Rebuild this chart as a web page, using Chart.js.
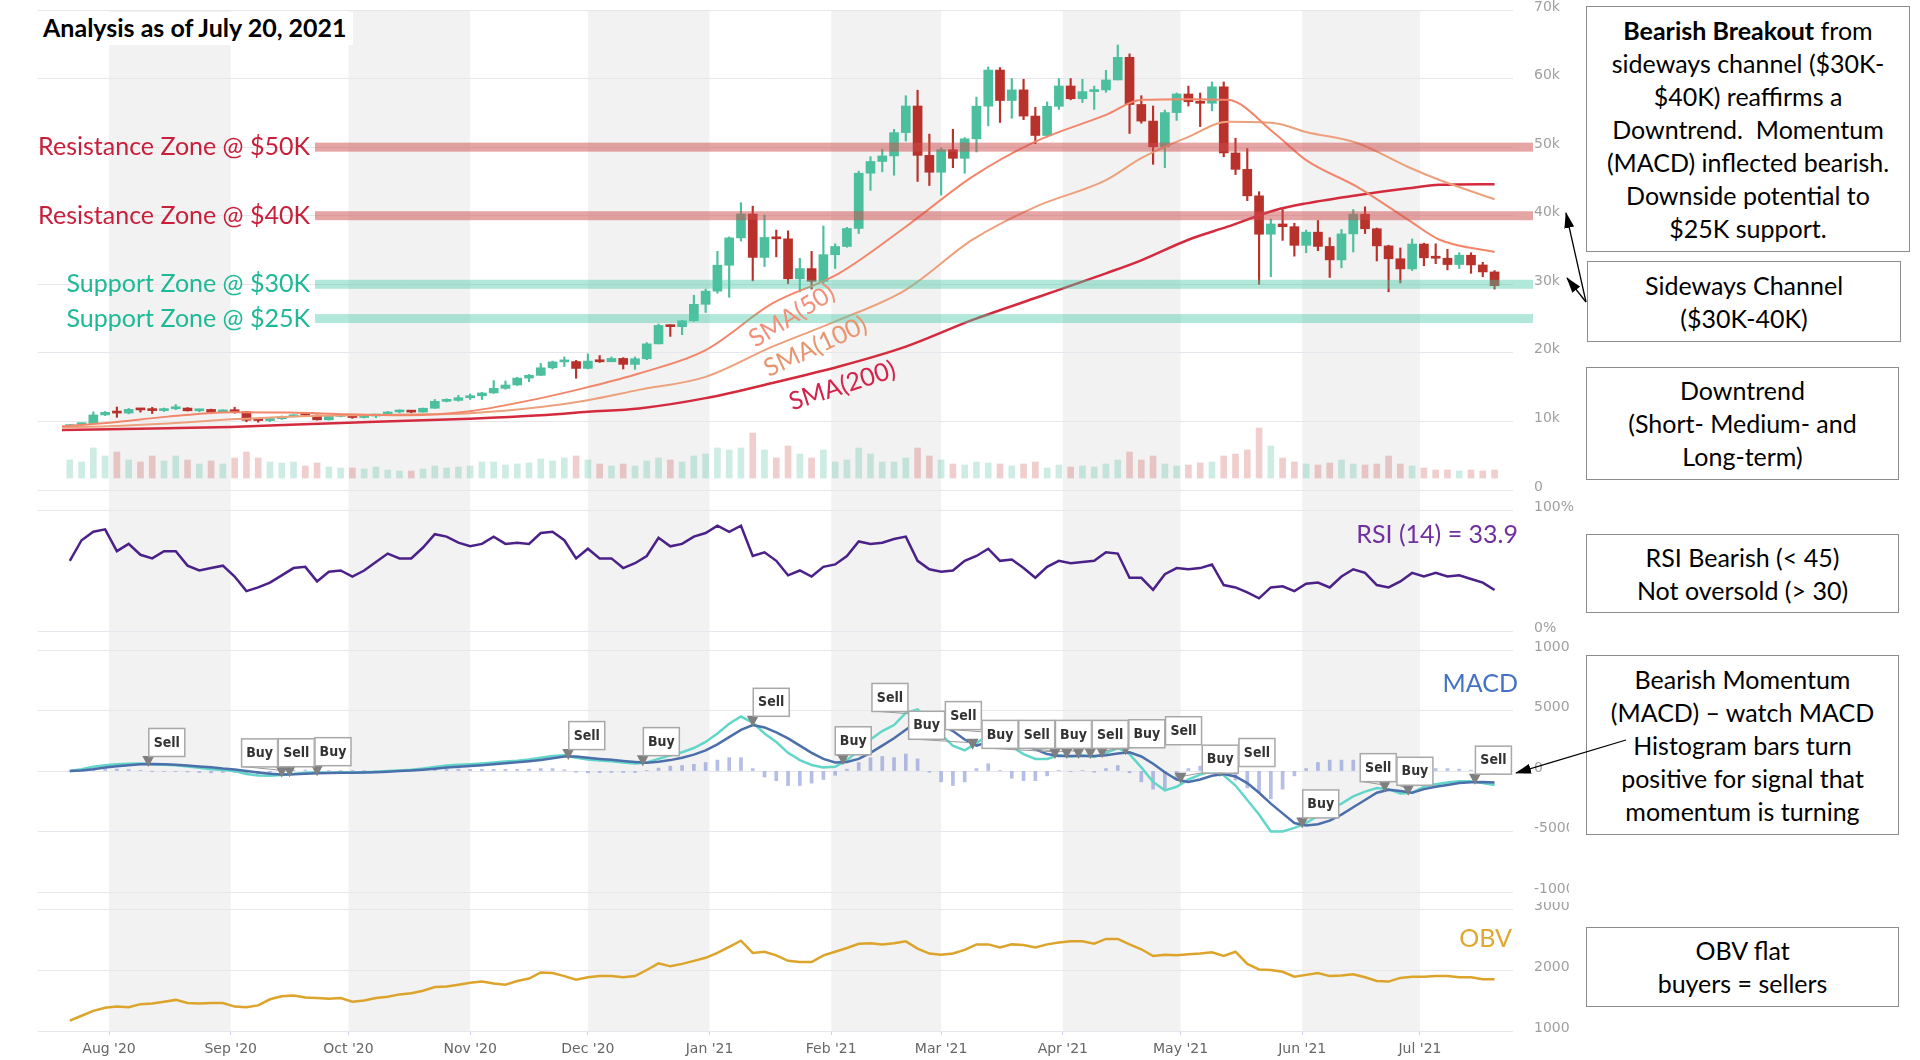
<!DOCTYPE html>
<html>
<head>
<meta charset="utf-8">
<title>BTC analysis</title>
<script src="https://cdn.jsdelivr.net/npm/chart.js@4.4.0/dist/chart.umd.min.js"></script>
<style>
  html, body { margin: 0; padding: 0; background: #fff; }
  body { width: 1920px; height: 1060px; position: relative; overflow: hidden; font-family: Lato, "Open Sans", sans-serif; }
  canvas.pane { position: absolute; left: 0; z-index: 1; }
  #title { position: absolute; left: 39px; top: 12px; padding: 0 6px 3px 4px; background: #fff; z-index: 2;
           font: bold 25px Lato, sans-serif; color: #000; }
  .note { position: absolute; box-sizing: border-box; border: 1.5px solid #8c8c8c; background: #fff; z-index: 2;
          display: flex; align-items: center; justify-content: center; text-align: center;
          font-size: 25px; line-height: 33px; color: #000; }
  svg { position: absolute; left: 0; top: 0; pointer-events: none; z-index: 3; }
</style>
</head>
<body>
<canvas id="priceChart" class="pane" width="1574" height="500" style="top:0px"></canvas>
<canvas id="rsiChart" class="pane" width="1574" height="140" style="top:500px"></canvas>
<canvas id="macdChart" class="pane" width="1569" height="262" style="top:640px"></canvas>
<canvas id="obvChart" class="pane" width="1574" height="158" style="top:902px"></canvas>

<div id="title">Analysis as of July 20, 2021</div>

<div class="note" style="left:1586px;top:6px;width:324px;height:246px;"><div><b>Bearish Breakout</b> from<br>sideways channel ($30K-<br>$40K) reaffirms a<br>Downtrend.&nbsp; Momentum<br>(MACD) inflected bearish.<br>Downside potential to<br>$25K support.</div></div>
<div class="note" style="left:1587px;top:261px;width:314px;height:81px;"><div>Sideways Channel<br>($30K-40K)</div></div>
<div class="note" style="left:1586px;top:367px;width:313px;height:113px;"><div>Downtrend<br>(Short- Medium- and<br>Long-term)</div></div>
<div class="note" style="left:1586px;top:534px;width:313px;height:79px;"><div>RSI Bearish (&lt; 45)<br>Not oversold (&gt; 30)</div></div>
<div class="note" style="left:1586px;top:655px;width:313px;height:180px;"><div>Bearish Momentum<br>(MACD) – watch MACD<br>Histogram bars turn<br>positive for signal that<br>momentum is turning</div></div>
<div class="note" style="left:1586px;top:927px;width:313px;height:80px;"><div>OBV flat<br>buyers = sellers</div></div>

<svg width="1920" height="1060">
  <defs>
    <marker id="ah" markerWidth="16" markerHeight="10" refX="15" refY="5" orient="auto" markerUnits="userSpaceOnUse">
      <path d="M0,0 L16,5 L0,10 z" fill="#000"/>
    </marker>
  </defs>
  <line x1="1586" y1="302" x2="1566" y2="213" stroke="#000" stroke-width="1.3" marker-end="url(#ah)"/>
  <line x1="1586" y1="302" x2="1567" y2="278" stroke="#000" stroke-width="1.3" marker-end="url(#ah)"/>
  <line x1="1626" y1="740" x2="1516" y2="773" stroke="#000" stroke-width="1.3" marker-end="url(#ah)"/>
</svg>

<script>
// days are counted from 1 Aug 2020; one candle every 3 days from 22 Jul 2020 to 20 Jul 2021
const startDay = -10;
const stepDays = 3;

const monthDays = [0, 31, 61, 92, 122, 153, 184, 212, 243, 273, 304, 334];
const monthLabels = ["Aug '20", "Sep '20", "Oct '20", "Nov '20", "Dec '20", "Jan '21",
  "Feb '21", "Mar '21", "Apr '21", "May '21", "Jun '21", "Jul '21"];

// price, thousands of USD
const firstOpen = 9.16;
const closes = [
  9.53, 9.70, 10.95, 11.33, 11.22, 11.76, 11.68, 11.58, 11.85, 11.95,
  11.55, 11.75, 11.33, 11.68, 11.42, 10.17, 10.13, 10.40, 10.68, 10.97,
  10.92, 10.23, 10.73, 10.84, 10.57, 10.79, 10.92, 11.38, 11.43, 11.36,
  11.92, 12.93, 13.07, 13.46, 13.74, 14.15, 14.82, 15.31, 16.32, 16.72,
  17.82, 18.68, 18.73, 17.73, 18.80, 18.70, 19.19, 18.32, 19.14, 21.31,
  24.00, 23.82, 24.68, 27.08, 29.00, 32.78, 36.77, 40.25, 33.92, 36.83,
  36.63, 30.80, 32.29, 30.43, 34.32, 35.51, 38.14, 46.20, 47.91, 48.72,
  52.12, 56.00, 48.80, 46.34, 49.63, 48.37, 51.21, 55.97, 61.24, 56.80,
  58.35, 54.53, 51.70, 55.95, 58.92, 57.06, 58.10, 58.35, 59.80, 63.10,
  56.22, 53.80, 50.05, 55.04, 57.75, 56.62, 56.40, 58.80, 49.15, 46.76,
  42.90, 37.30, 38.80, 38.40, 35.68, 37.60, 35.52, 33.56, 37.35, 40.22,
  38.10, 35.60, 33.72, 32.24, 35.87, 33.86, 33.80, 32.88, 34.24, 32.82,
  31.80, 29.80
];
const highs = [
  9.55, 9.73, 11.40, 11.45, 12.10, 11.90, 11.90, 12.07, 11.95, 12.47,
  12.02, 11.80, 11.80, 11.70, 12.07, 11.45, 10.40, 10.45, 10.80, 11.00,
  11.05, 10.95, 10.78, 10.85, 10.95, 10.80, 10.95, 11.45, 11.70, 11.60,
  11.95, 13.20, 13.30, 13.80, 14.00, 14.25, 15.95, 15.90, 16.45, 16.85,
  18.45, 18.80, 19.40, 18.90, 19.85, 19.60, 19.40, 19.30, 19.40, 21.50,
  24.20, 24.10, 24.75, 28.40, 29.30, 34.80, 36.90, 41.90, 41.40, 40.10,
  37.90, 37.80, 33.80, 34.80, 38.50, 35.90, 38.30, 46.50, 48.60, 49.70,
  52.60, 57.50, 58.30, 51.90, 49.90, 52.60, 51.40, 57.30, 61.70, 61.60,
  60.00, 59.90, 55.80, 56.60, 60.00, 60.00, 59.90, 58.90, 61.20, 64.90,
  63.60, 57.50, 56.00, 55.40, 57.90, 58.90, 57.90, 59.50, 59.50, 51.30,
  49.80, 43.50, 39.50, 40.90, 38.90, 37.90, 39.30, 36.80, 38.00, 40.90,
  41.30, 38.20, 35.70, 35.30, 36.60, 36.00, 35.90, 35.10, 34.60, 34.60,
  33.20, 32.00
];
const lows = [
  9.10, 9.48, 9.65, 10.85, 10.60, 11.10, 11.35, 11.15, 11.45, 11.70,
  11.52, 11.40, 11.12, 11.28, 11.20, 9.95, 9.88, 10.00, 10.28, 10.65,
  10.80, 10.20, 10.20, 10.65, 10.45, 10.50, 10.55, 10.90, 11.25, 11.25,
  11.35, 11.90, 12.85, 12.95, 13.20, 13.20, 14.10, 14.70, 15.25, 15.80,
  16.70, 17.65, 18.00, 16.30, 17.65, 18.60, 18.70, 17.65, 17.60, 19.00,
  21.30, 22.40, 22.65, 24.60, 25.90, 28.70, 28.10, 36.30, 30.50, 32.60,
  34.00, 30.10, 28.90, 29.30, 30.00, 32.30, 35.40, 37.40, 43.70, 46.40,
  45.90, 50.90, 45.00, 44.40, 43.00, 47.00, 46.20, 49.30, 53.10, 53.60,
  54.20, 54.00, 50.50, 51.50, 55.50, 56.90, 56.50, 55.50, 58.00, 59.80,
  52.00, 53.50, 47.50, 47.00, 53.90, 56.00, 53.00, 55.30, 48.60, 46.00,
  42.20, 30.00, 31.10, 36.40, 34.10, 34.60, 34.90, 31.00, 32.40, 34.70,
  37.40, 33.40, 28.90, 30.20, 32.00, 32.70, 33.00, 32.10, 32.30, 31.60,
  31.10, 29.30
];
// volume, relative units
const volumes = [
  18, 16, 30, 22, 26, 18, 16, 22, 17, 22,
  18, 14, 17, 14, 20, 26, 20, 16, 15, 16,
  12, 15, 11, 10, 10, 9, 11, 8, 7, 7,
  9, 12, 10, 11, 12, 16, 16, 13, 14, 15,
  19, 17, 20, 22, 18, 14, 12, 14, 12, 17,
  20, 18, 16, 22, 24, 30, 28, 30, 45, 28,
  20, 32, 24, 20, 28, 16, 18, 30, 24, 16,
  16, 20, 30, 22, 18, 14, 13, 16, 15, 14,
  12, 14, 16, 10, 13, 11, 12, 11, 14, 18,
  26, 18, 22, 14, 12, 13, 15, 16, 22, 24,
  28, 50, 32, 20, 16, 14, 13, 15, 18, 14,
  13, 14, 22, 14, 12, 10, 8, 8, 7, 8,
  7, 8
];

// moving averages, thousands of USD
const smaDays = [-12, 0, 15, 31, 46, 61, 76, 92, 110, 122, 135, 152, 169, 186, 203, 220, 236, 254, 263, 275, 285, 297, 305, 318, 331, 339, 353];
const sma50 = [9.3, 9.8, 10.7, 11.35, 11.3, 11.05, 10.9, 11.5, 13.4, 15.0, 17.0, 20.4, 27.2, 31.6, 38.4, 45.7, 50.8, 54.7, 56.9, 57.0, 56.9, 52.0, 48.1, 44.2, 39.4, 36.5, 34.7];
const sma100 = [9.15, 9.3, 9.7, 10.3, 10.7, 10.9, 11.0, 11.2, 12.1, 13.1, 14.6, 16.5, 20.9, 24.8, 29.2, 36.5, 41.3, 45.2, 48.4, 51.5, 53.7, 53.5, 52.2, 50.6, 47.1, 45.2, 42.4];
const sma200 = [8.75, 8.85, 9.0, 9.2, 9.5, 9.8, 10.1, 10.4, 10.9, 11.4, 11.9, 13.4, 15.6, 18.0, 20.9, 24.8, 28.0, 31.6, 33.5, 36.5, 38.4, 40.8, 41.8, 43.0, 44.0, 44.5, 44.6];

const zoneValues = [50, 40, 30, 25];
const zoneLabels = ['Resistance Zone @ $50K', 'Resistance Zone @ $40K', 'Support Zone @ $30K', 'Support Zone @ $25K'];

const rsi = [
  58, 75, 82, 84, 66, 72, 63, 60, 66, 66,
  54, 50, 52, 54, 45, 33, 36, 40, 46, 52,
  53, 41, 49, 50, 45, 50, 57, 64, 60, 60,
  69, 80, 78, 73, 70, 72, 78, 72, 73, 72,
  81, 82, 75, 60, 68, 60, 60, 52, 56, 62,
  77, 70, 72, 78, 81, 87, 82, 87, 62, 65,
  58, 46, 50, 45, 53, 55, 62, 74, 72, 73,
  76, 78, 58, 51, 49, 50, 58, 62, 68, 58,
  59, 52, 44, 53, 58, 56, 57, 58, 65, 64,
  44, 44, 34, 47, 52, 51, 52, 55, 38, 36,
  32, 27, 36, 37, 33, 39, 40, 36, 45, 51,
  48, 38, 36, 41, 48, 45, 48, 45, 46, 43,
  40, 33.9
];

const macdLine = [
  0, 150, 350, 480, 560, 600, 620, 560, 520, 470,
  380, 260, 150, 80, 0, -250, -380, -400, -330, -250,
  -150, -120, -140, -130, -130, -100, -60, 0, 50, 100,
  200, 330, 450, 520, 560, 620, 700, 780, 850, 950,
  1100, 1250, 1300, 1100, 950, 870, 800, 700, 620, 700,
  1000, 1300, 1550, 1900, 2400, 3100, 3900, 4500, 4000, 3100,
  2400, 1500, 900, 500, 300, 350, 900, 1700, 2600, 3300,
  3800, 4800, 5100, 4200, 3000, 2100, 1700, 2300, 3000, 2800,
  2000, 1400, 1000, 1000, 1300, 1200, 1300, 1150, 1500, 1900,
  1400, 300, -900, -1600, -1300, -700, -300, 0, -350, -1200,
  -2400, -3600, -5000, -5000, -4700, -4300, -3700, -3200, -2700, -2100,
  -1700, -1400, -1500, -1850, -1800, -1300, -1100, -950, -850, -850,
  -1000, -1150
];
const signalLine = [
  0, 50, 150, 280, 400, 480, 560, 580, 560, 520,
  460, 380, 300, 200, 130, 0, -120, -220, -280, -270,
  -230, -180, -160, -150, -140, -130, -100, -60, 0, 40,
  100, 180, 280, 360, 420, 480, 560, 640, 720, 800,
  900, 1050, 1200, 1200, 1100, 1000, 920, 820, 740, 680,
  760, 900, 1100, 1350, 1700, 2200, 2800, 3400, 3800, 3600,
  3200, 2700, 2100, 1500, 1000, 700, 750, 1000, 1500, 2100,
  2700, 3400, 4100, 4300, 3900, 3300, 2600, 2100, 2400, 2750,
  2600, 2200, 1800, 1400, 1250, 1250, 1250, 1250, 1300, 1450,
  1550, 1200, 600, -100, -700, -900, -700, -400, -250, -450,
  -1000, -1800, -2700, -3500, -4300, -4500, -4400, -4100, -3600, -3000,
  -2400, -1800, -1550, -1650, -1800, -1500, -1300, -1150, -1000, -920,
  -900, -950
];
const histogram = [
  0, 100, 200, 200, 160, 120, 60, -20, -40, -50,
  -80, -120, -150, -120, -130, -250, -260, -180, -50, 20,
  80, 60, 20, 20, 10, 30, 40, 60, 50, 60,
  100, 150, 170, 160, 140, 140, 140, 140, 130, 150,
  200, 200, 100, -100, -150, -130, -120, -120, -120, 20,
  240, 400, 450, 550, 700, 900, 1100, 1100, 200, -500,
  -800, -1200, -1200, -1000, -700, -350, 150, 700, 1100, 1200,
  1100, 1400, 1000, -100, -900, -1200, -900, 200, 600, 50,
  -600, -800, -800, -400, 50, -50, 50, -100, 200, 450,
  -150, -900, -1500, -1500, -600, 200, 400, 400, -100, -750,
  -1400, -1800, -2300, -1500, -400, 200, 700, 900, 900, 900,
  700, 400, 50, -200, 0, 200, 200, 200, 150, 70,
  -100, -200
];

// MACD crossover signals
const signalDays = [10, 44, 46, 53, 117, 136, 164, 187, 208, 220, 227, 241, 244, 247, 250, 253, 259, 273, 283, 304, 325, 331, 348];
const signalTypes = ['Sell', 'Buy', 'Sell', 'Buy', 'Sell', 'Buy', 'Sell', 'Buy', 'Sell', 'Buy', 'Sell', 'Buy',
  'Sell', 'Buy', 'Sell', 'Buy', 'Sell', 'Buy', 'Sell', 'Buy', 'Sell', 'Buy', 'Sell'];
const signalValues = [580, -280, -270, -180, 1150, 650, 3900, 720, 4300, 2000, 2800, 1250, 1250, 1250, 1250, 1300, 1550, -800, -250, -4500, -1500, -1800, -880];

const obv = [
  1170, 1250, 1330, 1380, 1400, 1390, 1440, 1450, 1480, 1510,
  1460, 1450, 1460, 1460, 1400, 1390, 1420, 1520, 1570, 1580,
  1550, 1540, 1530, 1540, 1480, 1500, 1540, 1560, 1600, 1620,
  1660, 1720, 1730, 1760, 1790, 1810, 1780, 1760, 1820, 1860,
  1960, 1950, 1900, 1840, 1880, 1900, 1900, 1880, 1900, 2000,
  2110, 2060, 2100, 2150, 2200, 2280, 2380, 2480, 2280, 2300,
  2240, 2150, 2130, 2130, 2240, 2300, 2360, 2430, 2440, 2420,
  2440, 2470, 2350, 2270, 2250, 2270, 2330, 2420, 2420, 2370,
  2420, 2410, 2370, 2420, 2450, 2470, 2470, 2430, 2510, 2510,
  2420, 2340, 2230, 2250, 2240, 2260, 2270, 2290, 2230, 2300,
  2100, 2010, 2000, 1970, 1890, 1920, 1950, 1900, 1910, 1930,
  1880, 1820, 1810, 1870, 1890, 1890, 1900, 1900, 1880, 1880,
  1850, 1850
];

// ---------- helpers ----------
const dayOf = i => startDay + i * stepDays;
const opens = closes.map((c, i) => (i === 0 ? firstOpen : closes[i - 1]));
const upColor = '#4cbf9f';
const downColor = '#b8312b';
const candleColors = closes.map((c, i) => (c >= opens[i] ? upColor : downColor));
const volColors = closes.map((c, i) => (c >= opens[i] ? 'rgba(76,191,159,0.28)' : 'rgba(200,80,80,0.28)'));
const series = arr => arr.map((v, i) => ({ x: dayOf(i), y: v }));

const X_MIN = -18.1, X_MAX = 357.7, PLOT_RIGHT = 1513;
const axisFont = { family: '"DejaVu Sans", sans-serif', size: 14 };
const labelFont = '25px Lato, "Open Sans", sans-serif';

function xAxis(show) {
  return {
    type: 'linear', min: X_MIN, max: X_MAX, offset: false, display: show,
    grid: { display: show, drawOnChartArea: false, drawTicks: true, tickLength: 4, color: '#ccd6eb', offset: false },
    border: { display: false },
    ticks: {
      autoSkip: false, maxRotation: 0, padding: 6, color: '#666', font: axisFont,
      callback: v => monthLabels[monthDays.indexOf(v)] || ''
    },
    afterBuildTicks: s => { s.ticks = monthDays.map(v => ({ value: v })); },
    afterFit: s => { if (show) s.height = 29; }
  };
}

function yAxis(min, max, extra) {
  return Object.assign({
    position: 'right', min: min, max: max,
    grid: { color: '#e6e6ec', drawTicks: false, lineWidth: 1 },
    border: { display: false },
    afterFit: s => {
      // fixed plot right edge, and no extra room above or below the pane
      s.width = s.chart.width - PLOT_RIGHT;
      s.paddingTop = 0;
      s.paddingBottom = 0;
    }
  }, extra);
}

function tickStyle(extra) {
  return Object.assign({ color: '#a0a0a0', font: axisFont, padding: 21, labelOffset: -3 }, extra);
}

// alternate month shading, spans the gaps between panes
function shading(fromAreaTop, toAreaBottom) {
  return {
    id: 'shade',
    beforeDraw(chart) {
      const { ctx, chartArea, scales } = chart;
      const top = fromAreaTop ? chartArea.top : 0;
      const bottom = toAreaBottom ? chartArea.bottom : chart.height;
      ctx.save();
      ctx.fillStyle = '#f2f2f2';
      for (let i = 0; i + 1 < monthDays.length; i += 2) {
        const a = scales.x.getPixelForValue(monthDays[i]);
        const b = scales.x.getPixelForValue(monthDays[i + 1]);
        ctx.fillRect(a, top, b - a, bottom - top);
      }
      ctx.restore();
    }
  };
}

function drawLabel(ctx, text, x, y, color, align, rotate) {
  ctx.save();
  ctx.translate(x, y);
  if (rotate) ctx.rotate(rotate * Math.PI / 180);
  ctx.font = labelFont;
  ctx.fillStyle = color;
  ctx.textAlign = align || 'center';
  ctx.textBaseline = 'middle';
  ctx.fillText(text, 0, 0);
  ctx.restore();
}

const baseOptions = {
  responsive: false,
  animation: false,
  devicePixelRatio: 1,
  plugins: { legend: { display: false }, tooltip: { enabled: false } }
};

// ---------- price pane ----------
const zonePlugin = {
  id: 'zones',
  afterDatasetsDraw(chart) {
    const { ctx, chartArea, scales } = chart;
    const zoneFill = ['rgba(205,75,75,0.5)', 'rgba(205,75,75,0.5)', 'rgba(70,200,165,0.42)', 'rgba(70,200,165,0.42)'];
    const zoneText = ['#c8203a', '#c8203a', '#1eb996', '#1eb996'];
    ctx.save();
    zoneValues.forEach((v, i) => {
      const y = scales.y.getPixelForValue(v);
      ctx.fillStyle = zoneFill[i];
      ctx.fillRect(315, y - 4.5, chartArea.right + 20 - 315, 9);
      drawLabel(ctx, zoneLabels[i], 310, y, zoneText[i], 'right');
    });
    ctx.restore();
    const { x, y } = scales;
    drawLabel(ctx, 'SMA(50)', x.getPixelForValue(174), y.getPixelForValue(25.4), '#f2907a', 'center', -32);
    drawLabel(ctx, 'SMA(100)', x.getPixelForValue(180), y.getPixelForValue(20.9), '#e8956e', 'center', -25);
    drawLabel(ctx, 'SMA(200)', x.getPixelForValue(186.8), y.getPixelForValue(15.2), '#d4224a', 'center', -18);
  }
};

new Chart(document.getElementById('priceChart'), {
  type: 'bar',
  data: {
    datasets: [
      { type: 'line', label: 'SMA(50)', data: smaDays.map((d, i) => ({ x: d, y: sma50[i] })),
        borderColor: '#f2866a', borderWidth: 2, pointRadius: 0, cubicInterpolationMode: 'monotone', order: 1 },
      { type: 'line', label: 'SMA(100)', data: smaDays.map((d, i) => ({ x: d, y: sma100[i] })),
        borderColor: '#eca07c', borderWidth: 2, pointRadius: 0, cubicInterpolationMode: 'monotone', order: 1 },
      { type: 'line', label: 'SMA(200)', data: smaDays.map((d, i) => ({ x: d, y: sma200[i] })),
        borderColor: '#d42a3e', borderWidth: 2.5, pointRadius: 0, cubicInterpolationMode: 'monotone', order: 1 },
      { label: 'Candle body', data: closes.map((c, i) => ({ x: dayOf(i), y: [opens[i], c] })),
        backgroundColor: candleColors, barThickness: 9, minBarLength: 2, grouped: false, order: 3 },
      { label: 'Candle wick', data: closes.map((c, i) => ({ x: dayOf(i), y: [lows[i], highs[i]] })),
        backgroundColor: candleColors, barThickness: 1.5, grouped: false, order: 4 },
      { label: 'Volume', yAxisID: 'yv', data: series(volumes),
        backgroundColor: volColors, barThickness: 6, grouped: false, order: 5 }
    ]
  },
  options: Object.assign({}, baseOptions, {
    layout: { padding: { top: 10, bottom: 10, left: 38, right: 0 } },
    scales: {
      x: xAxis(false),
      y: yAxis(0, 70, { ticks: tickStyle({ stepSize: 10, callback: v => (v === 0 ? '0' : v + 'k') }) }),
      yv: { display: false, min: -12, max: 468 }
    }
  }),
  plugins: [shading(true, false), zonePlugin]
});

// ---------- RSI pane ----------
new Chart(document.getElementById('rsiChart'), {
  type: 'line',
  data: { datasets: [{ label: 'RSI (14)', data: series(rsi), borderColor: '#4b2088', borderWidth: 2.5, pointRadius: 0 }] },
  options: Object.assign({}, baseOptions, {
    layout: { padding: { top: 10, bottom: 9, left: 38, right: 0 } },
    scales: {
      x: xAxis(false),
      y: yAxis(0, 100, {
        ticks: tickStyle({ callback: v => v + '%' }),
        afterBuildTicks: s => { s.ticks = [{ value: 0 }, { value: 100 }]; }
      })
    }
  }),
  plugins: [shading(false, false), {
    id: 'rsiLabel',
    afterDraw(chart) {
      drawLabel(chart.ctx, 'RSI (14) = 33.9', chart.chartArea.right + 5, chart.chartArea.top + 25, '#7030a0', 'right');
    }
  }]
});

// ---------- MACD pane ----------
const flagPlugin = {
  id: 'flags',
  afterDatasetsDraw(chart) {
    const { ctx, scales } = chart;
    const W = 36, H = 28, P = 36.7;
    const items = signalDays.map((d, i) => ({
      ax: scales.x.getPixelForValue(d),
      ay: scales.y.getPixelForValue(signalValues[i]),
      text: signalTypes[i]
    }));
    // spread overlapping flags: lone flags start at their point, crowded ones are centred on their points
    const groups = items.map(it => ({ items: [it], left: it.ax }));
    let merged = true;
    while (merged) {
      merged = false;
      for (let i = 0; i < groups.length - 1; i++) {
        const a = groups[i], b = groups[i + 1];
        if (a.left + a.items.length * P > b.left) {
          const all = a.items.concat(b.items);
          const mean = all.reduce((s, it) => s + it.ax, 0) / all.length;
          groups.splice(i, 2, { items: all, left: mean - all.length * P / 2 });
          merged = true;
          break;
        }
      }
    }
    groups.forEach(g => g.items.forEach((it, k) => { it.left = g.left + k * P; it.top = it.ay - 36; }));

    ctx.save();
    ctx.strokeStyle = '#9a9a9a';
    ctx.lineWidth = 1;
    items.forEach(it => {
      ctx.beginPath();
      ctx.moveTo(it.left + 0.5, it.top + H);
      ctx.lineTo(it.ax, it.ay - 4);
      ctx.stroke();
    });
    ctx.fillStyle = '#7f7f7f';
    items.forEach(it => {
      ctx.beginPath();
      ctx.moveTo(it.ax - 6, it.ay - 8);
      ctx.lineTo(it.ax + 6, it.ay - 8);
      ctx.lineTo(it.ax, it.ay + 3);
      ctx.closePath();
      ctx.fill();
    });
    items.forEach(it => {
      ctx.fillStyle = '#fff';
      ctx.fillRect(it.left, it.top, W, H);
      ctx.strokeStyle = '#a8a8a8';
      ctx.lineWidth = 1.5;
      ctx.strokeRect(it.left + 0.5, it.top + 0.5, W, H);
      ctx.fillStyle = '#333';
      ctx.font = 'bold 14px "DejaVu Sans Condensed", "DejaVu Sans", sans-serif';
      ctx.textAlign = 'center';
      ctx.textBaseline = 'middle';
      ctx.fillText(it.text, it.left + W / 2 + 0.5, it.top + H / 2 + 1);
    });
    ctx.restore();
    drawLabel(ctx, 'MACD', chart.chartArea.right + 5, chart.chartArea.top + 34, '#4472c4', 'right');
  }
};

new Chart(document.getElementById('macdChart'), {
  type: 'bar',
  data: {
    datasets: [
      { type: 'line', label: 'Signal', data: series(signalLine), borderColor: '#4a6fab', borderWidth: 2.5, pointRadius: 0, order: 1 },
      { type: 'line', label: 'MACD', data: series(macdLine), borderColor: '#62d6c8', borderWidth: 2.5, pointRadius: 0, order: 2 },
      { label: 'Histogram', data: series(histogram), backgroundColor: 'rgba(105,125,205,0.5)', barThickness: 3, grouped: false, order: 3 }
    ]
  },
  options: Object.assign({}, baseOptions, {
    layout: { padding: { top: 10, bottom: 10, left: 38, right: 0 } },
    scales: {
      x: xAxis(false),
      y: yAxis(-10000, 10000, { ticks: tickStyle({ stepSize: 5000, callback: v => String(v) }) })
    }
  }),
  plugins: [shading(false, false), flagPlugin]
});

// ---------- OBV pane ----------
new Chart(document.getElementById('obvChart'), {
  type: 'line',
  data: { datasets: [{ label: 'OBV', data: series(obv), borderColor: '#dca42b', borderWidth: 2.5, pointRadius: 0 }] },
  options: Object.assign({}, baseOptions, {
    layout: { padding: { top: 7, bottom: 0, left: 38, right: 0 } },
    scales: {
      x: xAxis(true),
      y: yAxis(1000, 3000, { ticks: tickStyle({ stepSize: 1000, callback: v => String(v) }) })
    }
  }),
  plugins: [shading(false, true), {
    id: 'obvLabel',
    afterDraw(chart) {
      drawLabel(chart.ctx, 'OBV', chart.chartArea.right - 1, chart.chartArea.top + 30, '#e0a830', 'right');
    }
  }]
});
</script>
</body>
</html>
